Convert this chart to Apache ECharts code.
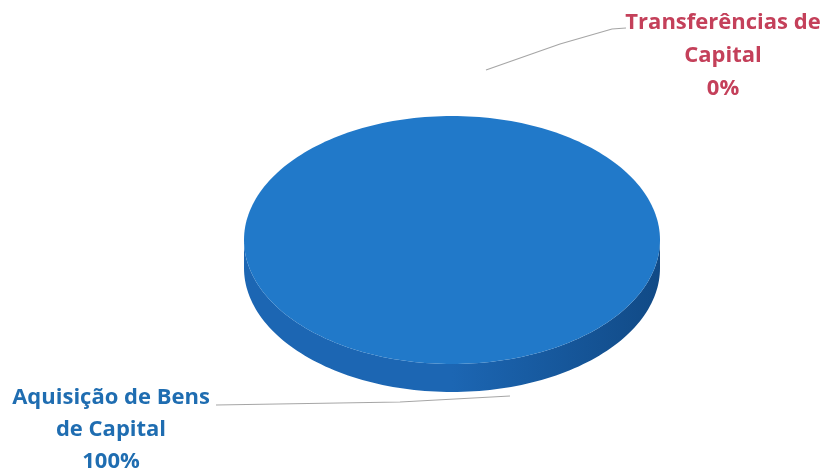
<!DOCTYPE html>
<html><head><meta charset="utf-8">
<script src="https://cdn.jsdelivr.net/npm/echarts@6/dist/echarts.min.js"></script>
<style>html,body{margin:0;padding:0;background:#fff}#c{width:825px;height:473px}</style>
</head><body><div id="c"></div>
<script>
// ---- data ----
const categories = ['Transferências de Capital', 'Aquisição de Bens de Capital'];
const values = [0, 100];
const labelLines = [['Transferências de', 'Capital'], ['Aquisição de Bens', 'de Capital']];

// ---- layout / style ----
const geo = { cx: 452, cy: 240, rx: 208, ry: 124, depth: 28 };
const topColors = ['#c0504d', '#2179c9'];
const sideColors = [['#9a3b39', '#7a2d2b'], ['#1c66b3', '#114a86']];
const labelStyle = [
  { x: 723, y: 6, color: '#c4405a', lh: 33, line: [[486, 70], [560, 44], [612, 29], [626, 28]] },
  { x: 111, y: 382, color: '#1f6db1', lh: 32, line: [[216, 405], [400, 402], [510, 396]] }
];

const total = values.reduce((a, b) => a + b, 0);
const starts = [];
{ let acc = 0; values.forEach(v => { starts.push(acc); acc += v; }); }

function pt(a, dy) {
  return [geo.cx + geo.rx * Math.sin(a), geo.cy - geo.ry * Math.cos(a) + (dy || 0)];
}
function arc(a0, a1, dy) {
  const n = Math.max(2, Math.ceil((a1 - a0) / (2 * Math.PI) * 240));
  const pts = [];
  for (let k = 0; k <= n; k++) pts.push(pt(a0 + (a1 - a0) * k / n, dy));
  return pts;
}

function renderItem(params, api) {
  const i = params.dataIndex;
  const v = api.value(0);
  const a0 = starts[i] / total * 2 * Math.PI;
  const a1 = (starts[i] + v) / total * 2 * Math.PI;
  const children = [];
  if (a1 - a0 <= 0) return { type: 'group', children };
  // side band (front half only)
  const s = Math.max(a0, Math.PI / 2), e = Math.min(a1, 3 * Math.PI / 2);
  if (e > s) {
    const topArc = arc(s, e, 0);
    const botArc = arc(s, e, geo.depth).reverse();
    children.push({
      type: 'polygon', z2: 1,
      shape: { points: topArc.concat(botArc) },
      style: {
        fill: { type: 'linear', x: 0, y: 0, x2: 1, y2: 0, colorStops: [
          { offset: 0, color: sideColors[i][0] }, { offset: 0.5, color: sideColors[i][0] },
          { offset: 1, color: sideColors[i][1] }] },
        stroke: null
      }
    });
  }
  // top face
  let pts = arc(a0, a1, 0);
  if (a1 - a0 < 2 * Math.PI - 1e-6) pts = [[geo.cx, geo.cy]].concat(pts);
  children.push({
    type: 'polygon', z2: 10,
    shape: { points: pts },
    style: { fill: topColors[i], stroke: null }
  });
  return { type: 'group', children };
}

const graphics = [];
values.forEach((v, i) => {
  const ls = labelStyle[i];
  const pct = Math.round(v / total * 100) + '%';
  graphics.push({
    type: 'polyline', silent: true,
    shape: { points: ls.line },
    style: { stroke: '#a6a6a6', lineWidth: 1.2, fill: null }
  });
  graphics.push({
    type: 'text', silent: true, x: ls.x, y: ls.y,
    style: {
      text: labelLines[i].concat([pct]).join('\n'),
      fill: ls.color, font: 'bold 22px "Open Sans"', align: 'center', verticalAlign: 'top',
      lineHeight: ls.lh
    }
  });
});

const chart = echarts.init(document.getElementById('c'), null, { renderer: 'canvas' });
chart.setOption({
  backgroundColor: '#ffffff',
  animation: false,
  graphic: graphics,
  series: [{
    type: 'custom',
    name: 'Despesas de Capital',
    coordinateSystem: 'none',
    data: values.map((v, i) => ({ name: categories[i], value: [v, i] })),
    renderItem: renderItem
  }]
});
</script>
</body></html>
